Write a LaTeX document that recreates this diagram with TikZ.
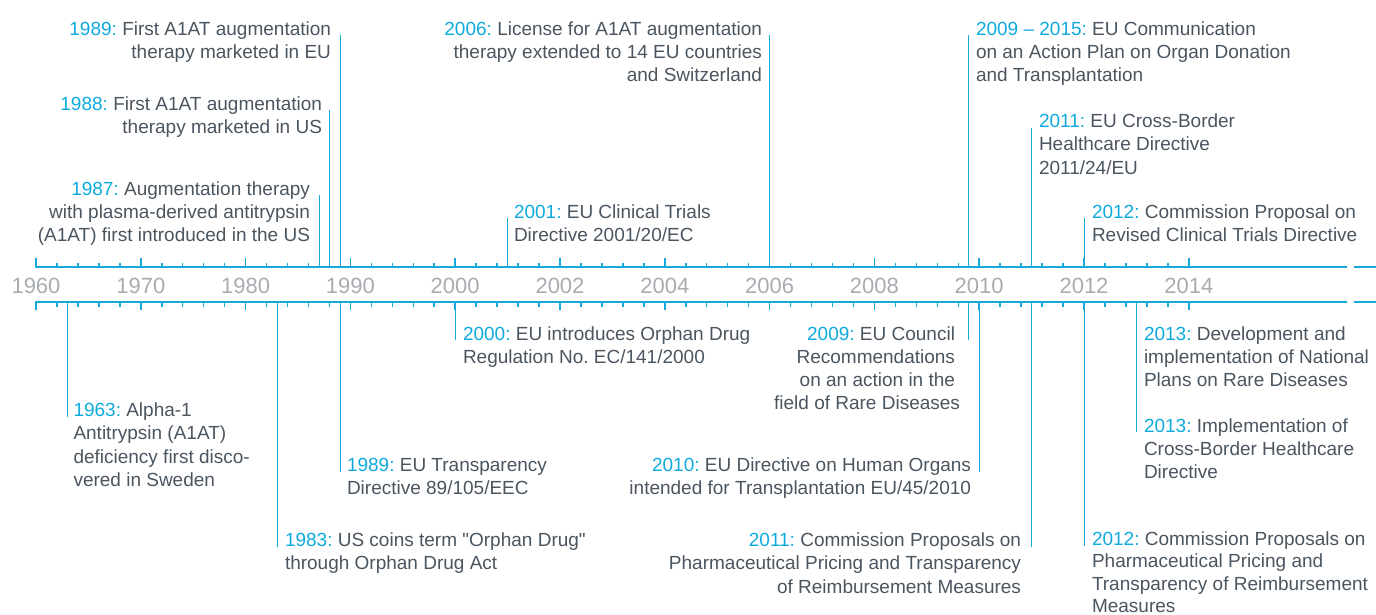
\documentclass[tikz,border=0pt]{standalone}
\usepackage{fontspec}
\setmainfont{Liberation Sans}
\frenchspacing

\definecolor{axisblue}{RGB}{22,170,218}
\definecolor{yearblue}{RGB}{14,170,222}
\definecolor{bodygray}{RGB}{74,85,96}
\definecolor{scalegray}{RGB}{168,172,177}

% coloured year prefix of an entry
\newcommand\yr[1]{\textcolor{yearblue}{#1}}
% entry text blocks whose baseline is the first line
\newcommand\evl[1]{\begin{tabular}[t]{@{}l@{}}#1\end{tabular}}
\newcommand\evr[1]{\begin{tabular}[t]{@{}r@{}}#1\end{tabular}}

\tikzset{
  evtext/.style={font=\fontsize{19}{23.2}\selectfont, text=bodygray, inner sep=0pt, outer sep=0pt},
  evleft/.style={evtext, anchor=base west},
  evright/.style={evtext, anchor=base east},
  stem/.style={draw=axisblue, line width=1pt},
  axisline/.style={draw=axisblue, line width=2pt},
  tickmark/.style={draw=axisblue, line width=1.5pt},
  yearlabel/.style={font=\fontsize{22}{26}\selectfont, text=scalegray, anchor=base, inner sep=0pt}
}

\begin{document}
\begin{tikzpicture}[x=1pt, y=-1pt]
\useasboundingbox (0,0) rectangle (1376,615);

% double time axis with a break at the right end
\draw[axisline] (35.3,267.3) -- (1347,267.3);
\draw[axisline] (1354,267.3) -- (1376,267.3);
\draw[axisline] (35.3,301.7) -- (1347,301.7);
\draw[axisline] (1354,301.7) -- (1376,301.7);

% minor and major ticks
\foreach \i in {0,...,55} {
  \draw[tickmark] ({36+\i*20.96},267.3) -- ({36+\i*20.96},262.6);
  \draw[tickmark] ({36+\i*20.96},301.7) -- ({36+\i*20.96},306.6);
}
\foreach \i in {0,...,11} {
  \draw[tickmark] ({36+\i*104.8},267.3) -- ({36+\i*104.8},258.4);
  \draw[tickmark] ({36+\i*104.8},301.7) -- ({36+\i*104.8},310.2);
}

% scale labels
\foreach \y [count=\i from 0] in {1960,1970,1980,1990,2000,2002,2004,2006,2008,2010,2012,2014}
  \node[yearlabel] (yl\y) at ({36+\i*104.8},293.3) {\y};

% anchor points on the upper axis
\coordinate (t1987) at (319,267.3);
\coordinate (t1988) at (329.4,267.3);
\coordinate (t1989) at (340,267.3);
\coordinate (t2001) at (507.6,267.3);
\coordinate (t2006) at (769.6,267.3);
\coordinate (t2009) at (968,267.3);
\coordinate (t2011) at (1031.6,267.3);
\coordinate (t2012) at (1084,267.3);

% anchor points on the lower axis
\coordinate (b1963) at (67.4,301.7);
\coordinate (b1983) at (277.4,301.7);
\coordinate (b1989) at (340,301.7);
\coordinate (b2000) at (455.2,301.7);
\coordinate (b2009) at (968,301.7);
\coordinate (b2010) at (979.2,301.7);
\coordinate (b2011) at (1031.6,301.7);
\coordinate (b2012) at (1084,301.7);
\coordinate (b2013) at (1136.4,301.7);

% entries above the axis
\node[evright] (e1989t) at (331,35.3) {\evr{\yr{1989:} First A1AT augmentation\\therapy marketed in EU}};
\node[evright] (e1988) at (322,110.3) {\evr{\yr{1988:} First A1AT augmentation\\therapy marketed in US}};
\node[evright] (e1987) at (310,195.3) {\evr{\yr{1987:} Augmentation therapy\\with plasma-derived antitrypsin\\(A1AT) first introduced in the US}};
\node[evright] (e2006) at (762,35.3) {\evr{\yr{2006:} License for A1AT augmentation\\therapy extended to 14 EU countries\\and Switzerland}};
\node[evleft] (e2001) at (514,218) {\evl{\yr{2001:} EU Clinical Trials\\Directive 2001/20/EC}};
\node[evleft] (e2009t) at (976,35.3) {\evl{\yr{2009 – 2015:} EU Communication\\on an Action Plan on Organ Donation\\and Transplantation}};
\node[evleft] (e2011t) at (1039,127.7) {\evl{\yr{2011:} EU Cross-Border\\Healthcare Directive\\2011/24/EU}};
\node[evleft] (e2012t) at (1092,218) {\evl{\yr{2012:} Commission Proposal on\\Revised Clinical Trials Directive}};

% entries below the axis
\node[evleft] (e1963) at (73.5,416.7) {\evl{\yr{1963:} Alpha-1\\Antitrypsin (A1AT)\\deficiency first disco-\\vered in Sweden}};
\node[evleft] (e1983) at (285,546.7) {\evl{\yr{1983:} US coins term \textquotedbl Orphan Drug\textquotedbl\\through Orphan Drug Act}};
\node[evleft] (e1989b) at (347,471.7) {\evl{\yr{1989:} EU Transparency\\Directive 89/105/EEC}};
\node[evleft] (e2000) at (463,340) {\evl{\yr{2000:} EU introduces Orphan Drug\\Regulation No. EC/141/2000}};
\node[evright] (e2009b) at (960,340) {\evr{\yr{2009:} EU Council\hspace*{5pt}\\Recommendations\hspace*{5pt}\\on an action in the\hspace*{5pt}\\field of Rare Diseases}};
\node[evright] (e2010) at (971,471.7) {\evr{\yr{2010:} EU Directive on Human Organs\\intended for Transplantation EU/45/2010}};
\node[evright] (e2011b) at (1021,546.7) {\evr{\yr{2011:} Commission Proposals on\\Pharmaceutical Pricing and Transparency\\of Reimbursement Measures}};
\node[evleft, font=\fontsize{19}{22.4}\selectfont] (e2012b) at (1092,545.5) {\evl{\yr{2012:} Commission Proposals on\\Pharmaceutical Pricing and\\Transparency of Reimbursement\\Measures}};
\node[evleft] (e2013a) at (1144,340) {\evl{\yr{2013:} Development and\\implementation of National\\Plans on Rare Diseases}};
\node[evleft] (e2013b) at (1144,432) {\evl{\yr{2013:} Implementation of\\Cross-Border Healthcare\\Directive}};

% stems from the axis to each entry
\draw[stem] (t1989) -- (t1989 |- e1989t.base);
\draw[stem] (t1988) -- (t1988 |- e1988.base);
\draw[stem] (t1987) -- (t1987 |- e1987.base);
\draw[stem] (t2006) -- (t2006 |- e2006.base);
\draw[stem] (t2001) -- (t2001 |- e2001.base);
\draw[stem] (t2009) -- (t2009 |- e2009t.base);
\draw[stem] (t2011) -- (t2011 |- e2011t.base);
\draw[stem] (t2012) -- (t2012 |- e2012t.base);

\draw[stem] (b1963) -- (b1963 |- e1963.base);
\draw[stem] (b1983) -- (b1983 |- e1983.base);
\draw[stem] (b1989) -- (b1989 |- e1989b.base);
\draw[stem] (b2000) -- (b2000 |- e2000.base);
\draw[stem] (b2009) -- (b2009 |- e2009b.base);
\draw[stem] (b2010) -- (b2010 |- e2010.base);
\draw[stem] (b2011) -- (b2011 |- e2011b.base);
\draw[stem] (b2012) -- (b2012 |- e2012b.base);
\draw[stem] (b2013) -- (b2013 |- e2013a.base);
\draw[stem] (b2013) -- (b2013 |- e2013b.base);
\end{tikzpicture}
\end{document}
